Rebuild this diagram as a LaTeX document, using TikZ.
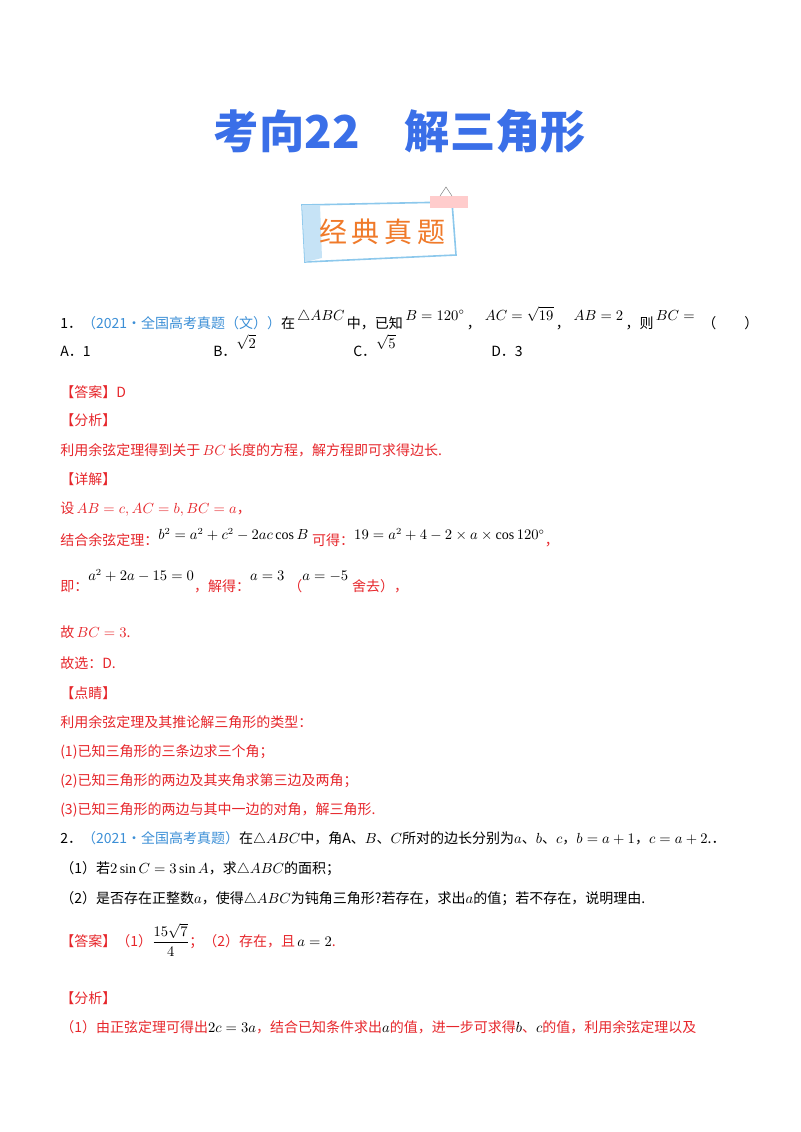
\documentclass[tikz,border=0pt]{standalone}
\usepackage{fontspec}
\setmainfont{Liberation Serif}
\newfontfamily\cjk{Noto Sans CJK SC}
\definecolor{tblue}{HTML}{3A6FE8}
\definecolor{sblue}{HTML}{3C8FD6}
\definecolor{rr}{HTML}{E6262B}
\definecolor{org}{HTML}{F07A2A}
\definecolor{bdr}{HTML}{8CC8EC}
\tikzset{t/.style={anchor=base west,inner sep=0pt,font=\cjk\fontsize{10.5}{12}\selectfont},
r/.style={t,text=rr}}
\begin{document}
\begin{tikzpicture}[x=0.75pt,y=-0.75pt]
\useasboundingbox (0,0) rectangle (800,1132);
\node[anchor=base,inner sep=0pt,text=tblue,font=\cjk\bfseries\fontsize{34}{40}\selectfont] (title) at (400,148) {考向22\hspace{1em}解三角形};
% badge
\draw[bdr,line width=1.2pt,fill=white] (302,205) -- (452,202) -- (456,255) -- (305,262) -- cycle;
\fill[bdr!50] (302,205) -- (320,205) -- (322,258) -- (305,262) -- cycle;
\fill[pink!80] (430,196) rectangle (468,208);
\draw[gray] (440,196) -- (446,187) -- (452,196);
\node[anchor=center,inner sep=0pt,text=org,font=\cjk\fontsize{21}{24}\selectfont] (badge) at (382,232) {经\,典\,真\,题};
% Q1
\node[t] (q1) at (60,328) {1．\textcolor{sblue}{（2021•全国高考真题（文））}在\,\raisebox{6pt}{$\triangle ABC$}\,中，已知\,\raisebox{6pt}{$B=120^\circ$}\,，\;\raisebox{6pt}{$AC=\sqrt{19}$}\,，\;\raisebox{6pt}{$AB=2$}\,，则\,\raisebox{6pt}{$BC=$}\;\;（\qquad）};
\node[t] (oa) at (60,356) {A．1};
\node[t] (ob) at (213,356) {B．\raisebox{6pt}{$\sqrt2$}};
\node[t] (oc) at (353,356) {C．\raisebox{6pt}{$\sqrt5$}};
\node[t] (od) at (491,356) {D．3};
\node[r] (a1) at (60,397) {【答案】D};
\node[r] (f1) at (60,425) {【分析】};
\node[r] (f1t) at (60,455) {利用余弦定理得到关于\,$BC$\,长度的方程，解方程即可求得边长.};
\node[r] (x1) at (60,484) {【详解】};
\node[r] (x1a) at (60,513) {设\,$AB=c,AC=b,BC=a$，};
\node[r] (x1b) at (60,545) {结合余弦定理：\raisebox{4pt}{\textcolor{black}{$b^2=a^2+c^2-2ac\cos B$}}\;可得：\raisebox{4pt}{\textcolor{black}{$19=a^2+4-2\times a\times\cos120^\circ$}}，};
\node[r] (x1c) at (60,591) {即：\raisebox{8pt}{\textcolor{black}{$a^2+2a-15=0$}}，解得：\raisebox{8pt}{\textcolor{black}{$a=3$}}\;（\raisebox{8pt}{\textcolor{black}{$a=-5$}}\;舍去），};
\node[r] (x1d) at (60,637) {故\,$BC=3$.};
\node[r] (x1e) at (60,668) {故选：D.};
\node[r] (d1) at (60,698) {【点睛】};
\node[r] (d1a) at (60,727) {利用余弦定理及其推论解三角形的类型：};
\node[r] (d1b) at (60,756) {(1)已知三角形的三条边求三个角；};
\node[r] (d1c) at (60,785) {(2)已知三角形的两边及其夹角求第三边及两角；};
\node[r] (d1d) at (60,814) {(3)已知三角形的两边与其中一边的对角，解三角形.};
% Q2
\node[t] (q2) at (60,843) {2．\textcolor{sblue}{（2021•全国高考真题）}在$\triangle ABC$中，角A、$B$、$C$所对的边长分别为$a$、$b$、$c$，$b=a+1$，$c=a+2$.．};
\node[t] (q2a) at (60,873) {（1）若$2\sin C=3\sin A$，求$\triangle ABC$的面积；};
\node[t] (q2b) at (60,903) {（2）是否存在正整数$a$，使得$\triangle ABC$为钝角三角形?若存在，求出$a$的值；若不存在，说明理由.};
\node[r] (a2) at (60,946) {【答案】（1）\textcolor{black}{$\displaystyle\frac{15\sqrt7}{4}$}；（2）存在，且\,\textcolor{black}{$a=2$}.};
\node[r] (f2) at (60,1003) {【分析】};
\node[r] (f2a) at (60,1032) {（1）由正弦定理可得出\textcolor{black}{$2c=3a$}，结合已知条件求出\textcolor{black}{$a$}的值，进一步可求得\textcolor{black}{$b$}、\textcolor{black}{$c$}的值，利用余弦定理以及};
\end{tikzpicture}
\end{document}
